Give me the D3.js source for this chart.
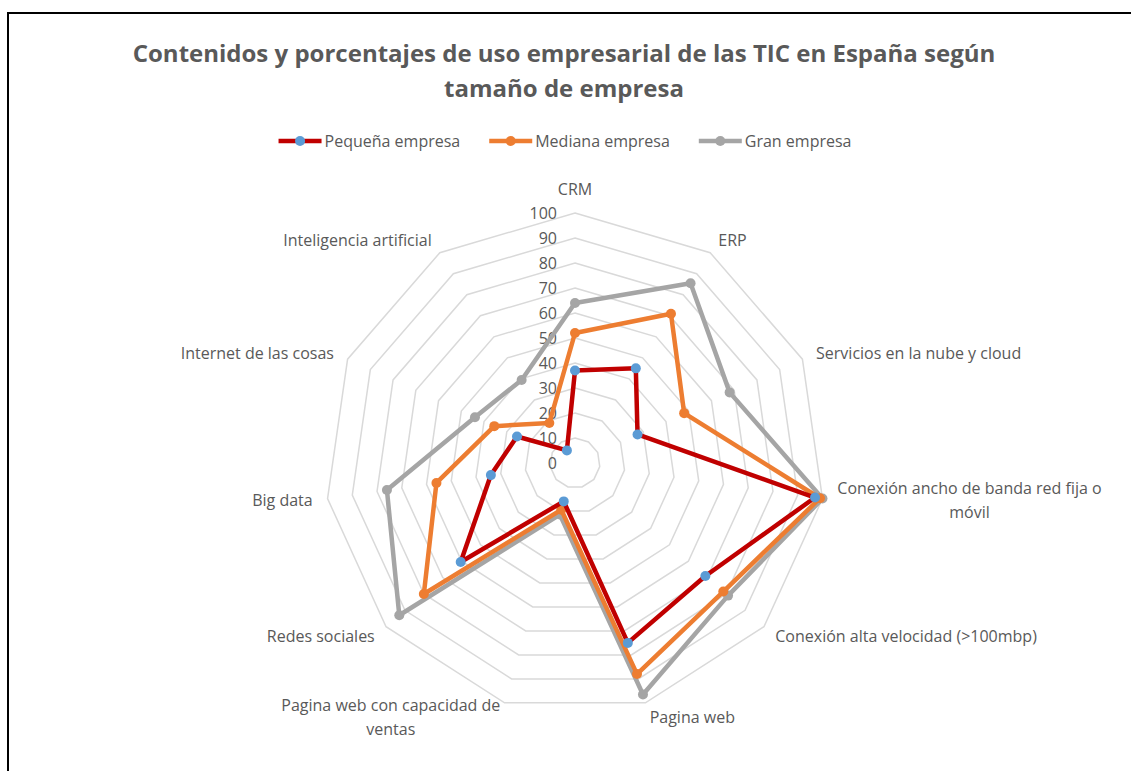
<!DOCTYPE html>
<html>
<head>
<meta charset="utf-8">
<script src="https://cdn.jsdelivr.net/npm/d3@7"></script>
<style>
  body { margin: 0; background: #fff; }
  text { font-family: "Open Sans", sans-serif; fill: #595959; }
</style>
</head>
<body>
<svg class="radar" width="1131" height="771"></svg>
<script>
// categories, clockwise from the top ("\n" marks where the label wraps)
var categories = ['CRM', 'ERP', 'Servicios en la nube y cloud',
  'Conexión ancho de banda red fija o\nmóvil', 'Conexión alta velocidad (>100mbp)',
  'Pagina web', 'Pagina web con capacidad de\nventas', 'Redes sociales',
  'Big data', 'Internet de las cosas', 'Inteligencia artificial'];

var seriesNames = ['Pequeña empresa', 'Mediana empresa', 'Gran empresa'];

// values (%)
var pequena = [37, 45, 27.5, 97, 69, 75, 16, 60.5, 34, 25.5, 6];
var mediana = [52, 71, 48, 99, 78.5, 88, 19.5, 80, 56, 35.5, 19];
var gran    = [64, 85.5, 68, 100, 81, 96.5, 21.5, 93, 76, 44, 39.5];

var ticks = [0, 10, 20, 30, 40, 50, 60, 70, 80, 90, 100];

var lineColors = ['#c00000', '#ed7d31', '#a5a5a5'];
var markerColors = ['#5b9bd5', '#ed7d31', '#a5a5a5'];

var svg = d3.select('svg.radar');
var center = {x: 575, y: 463};

// frame of the chart area (only left and top edges show)
svg.append('rect')
  .attr('x', 8).attr('y', 13)
  .attr('width', 1300).attr('height', 900)
  .attr('fill', 'none').attr('stroke', '#000').attr('stroke-width', 2);

// title
var title = svg.append('text')
  .attr('text-anchor', 'middle')
  .style('font-size', '24px').style('font-weight', 'bold');
title.append('tspan').attr('x', 564).attr('y', 62)
  .text('Contenidos y porcentajes de uso empresarial de las TIC en España según');
title.append('tspan').attr('x', 564).attr('y', 97).text('tamaño de empresa');

var rScale = d3.scaleLinear().domain([0, 100]).range([0, 250]);
var angleStep = 2 * Math.PI / categories.length;

var chartG = svg.append('g')
  .attr('transform', 'translate(' + [center.x, center.y] + ')');

// grid rings
var ring = d3.lineRadial()
  .angle(function(d, i) { return i * angleStep; })
  .radius(function(d) { return rScale(d); })
  .curve(d3.curveLinearClosed);

chartG.selectAll('path.ring')
  .data(ticks.slice(1))
  .enter()
  .append('path')
  .attr('class', 'ring')
  .attr('d', function(t) { return ring(categories.map(function() { return t; })); })
  .attr('fill', 'none')
  .attr('stroke', '#d9d9d9')
  .attr('stroke-width', 1.5);

// value axis labels
chartG.selectAll('text.tick')
  .data(ticks)
  .enter()
  .append('text')
  .attr('class', 'tick')
  .attr('x', -18)
  .attr('y', function(d) { return -rScale(d); })
  .attr('dy', '0.35em')
  .attr('text-anchor', 'end')
  .style('font-size', '16px')
  .text(function(d) { return d; });

// category labels
var labelR = 265;
chartG.selectAll('text.cat')
  .data(categories)
  .enter()
  .append('text')
  .attr('class', 'cat')
  .style('font-size', '16px')
  .each(function(d, i) {
    var a = i * angleStep;
    var s = Math.sin(a), c = Math.cos(a);
    var px = labelR * s, py = -labelR * c;
    var lines = d.split('\n');
    var el = d3.select(this);
    var anchor = Math.abs(s) < 0.1 ? 'middle' : (s > 0 ? 'start' : 'end');
    if (anchor === 'middle' && c > 0) py -= 9;
    var lh = 24;
    var y0 = py - (lines.length - 1) * lh / 2;
    // measure the first line so wrapped lines can be centred under it
    el.text(lines[0]);
    var w = this.getComputedTextLength();
    el.text(null);
    var cx = anchor === 'start' ? px + w / 2 : (anchor === 'end' ? px - w / 2 : px);
    lines.forEach(function(line, k) {
      el.append('tspan')
        .attr('x', cx)
        .attr('y', y0 + k * lh)
        .attr('dy', '0.35em')
        .attr('text-anchor', 'middle')
        .text(line);
    });
  });

// series
var series = [pequena, mediana, gran].map(function(vals, i) {
  return {name: seriesNames[i], values: vals, line: lineColors[i], marker: markerColors[i]};
});

var radarLine = d3.lineRadial()
  .angle(function(d, i) { return i * angleStep; })
  .radius(function(d) { return rScale(d); })
  .curve(d3.curveLinearClosed);

// draw last series first so the small companies sit on top
var seriesG = chartG.selectAll('g.series')
  .data(series.slice().reverse())
  .enter()
  .append('g')
  .attr('class', 'series');

seriesG.append('path')
  .attr('d', function(d) { return radarLine(d.values); })
  .attr('fill', 'none')
  .attr('stroke', function(d) { return d.line; })
  .attr('stroke-width', 4.5)
  .attr('stroke-linejoin', 'round');

seriesG.selectAll('circle')
  .data(function(d) { return d.values.map(function(v) { return {v: v, color: d.marker}; }); })
  .enter()
  .append('circle')
  .attr('cx', function(d, i) { return rScale(d.v) * Math.sin(i * angleStep); })
  .attr('cy', function(d, i) { return -rScale(d.v) * Math.cos(i * angleStep); })
  .attr('r', 5)
  .attr('fill', function(d) { return d.color; });

// legend
var legendG = svg.append('g').attr('transform', 'translate(0,141)');
var items = legendG.selectAll('g.item')
  .data(series)
  .enter()
  .append('g')
  .attr('class', 'item');

items.append('line')
  .attr('x1', 0).attr('x2', 43)
  .attr('stroke', function(d) { return d.line; })
  .attr('stroke-width', 4.5);
items.append('circle')
  .attr('cx', 21.5).attr('r', 5)
  .attr('fill', function(d) { return d.marker; });
items.append('text')
  .attr('x', 46)
  .attr('dy', '0.35em')
  .style('font-size', '16px')
  .text(function(d) { return d.name; });

var widths = [];
items.each(function() { widths.push(this.getBBox().width); });
var gap = 29;
var total = d3.sum(widths) + gap * (widths.length - 1);
var xPos = 565 - total / 2;
items.attr('transform', function(d, i) {
  var x = xPos;
  xPos += widths[i] + gap;
  return 'translate(' + x + ',0)';
});
</script>
</body>
</html>
